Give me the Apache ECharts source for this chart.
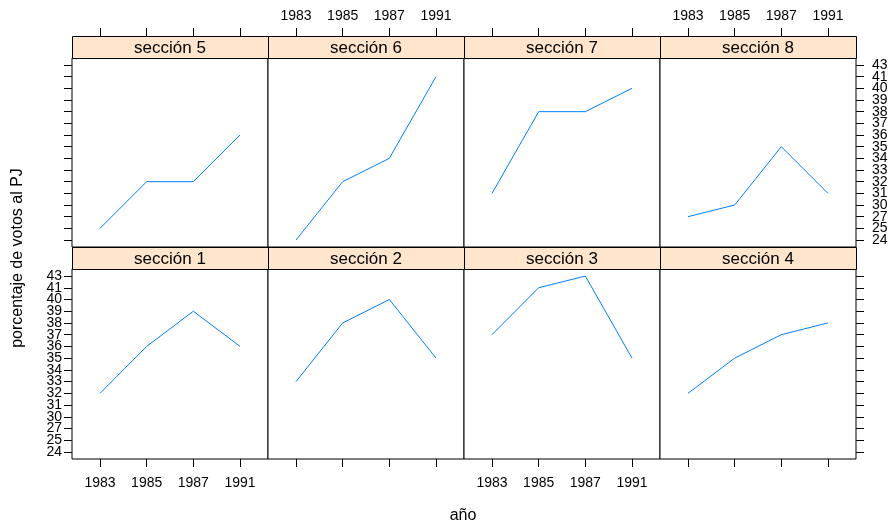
<!DOCTYPE html>
<html><head><meta charset="utf-8">
<script src="https://cdn.jsdelivr.net/npm/echarts@6/dist/echarts.min.js"></script>
<style>html,body{margin:0;padding:0;background:#fff}#c{width:895px;height:526px}</style>
</head><body><div id="c"></div>
<script>
// ---- data ----
const years = ['1983', '1985', '1987', '1991'];
const levels = [24, 25, 27, 30, 31, 32, 33, 34, 35, 36, 37, 38, 39, 40, 41, 43];
const panelNames = ['sección 1', 'sección 2', 'sección 3', 'sección 4', 'sección 5', 'sección 6', 'sección 7', 'sección 8'];
const s1 = [32, 36, 39, 36];
const s2 = [33, 38, 40, 35];
const s3 = [37, 41, 43, 35];
const s4 = [32, 35, 37, 38];
const s5 = [25, 32, 32, 36];
const s6 = [24, 32, 34, 41];
const s7 = [31, 38, 38, 40];
const s8 = [27, 30, 35, 31];
const seriesValues = [s1, s2, s3, s4, s5, s6, s7, s8];

// ---- layout ----
const FONT = 'Liberation Sans, Arial, Helvetica, sans-serif';
const colLeft = [72, 268, 464, 660];
const panelW = 196;
const stripH = 22;
const rowTop = { top: 58, bottom: 269 };
const panelH = { top: 189, bottom: 190 };

const grid = [], xAxis = [], yAxis = [], series = [], graphic = [];
const yIdx = levels.map((_, i) => i);
const yEven = yIdx.filter(i => i % 2 === 0);
const yOdd = yIdx.filter(i => i % 2 === 1);
const xIdx = years.map((_, i) => i);
const extraY = [];

function yLabelStyle(values, right) {
  return { show: true, customValues: values, formatter: v => String(levels[Math.round(v)]),
    showMinLabel: true, showMaxLabel: true, hideOverlap: false,
    color: '#000', fontSize: 14, fontFamily: FONT, margin: right ? 16 : 10 };
}

panelNames.forEach((name, p) => {
  const row = p < 4 ? 'bottom' : 'top';
  const col = p % 4;
  const left = colLeft[col];
  const top = rowTop[row];
  const h = panelH[row];
  grid.push({ left: left, top: top, width: panelW, height: h, show: true,
    borderColor: '#000', borderWidth: 1, backgroundColor: '#fff', containLabel: false });
  const xLabel = row === 'bottom' ? (col === 0 || col === 2) : (col === 1 || col === 3);
  xAxis.push({
    type: 'value', gridIndex: p, min: -0.6, max: 3.6,
    position: row === 'bottom' ? 'bottom' : 'top',
    offset: row === 'top' ? stripH : 0,
    axisLine: { show: false, onZero: false }, splitLine: { show: false },
    axisTick: { show: true, length: 8, customValues: xIdx, lineStyle: { color: '#000', width: 1 } },
    axisLabel: { show: xLabel, customValues: xIdx, formatter: v => years[Math.round(v)],
      hideOverlap: false,
      color: '#000', fontSize: 14, fontFamily: FONT, margin: row === 'top' ? 13 : 17 }
  });
  const yTicks = col === 0 || col === 3;
  const yLabel = (col === 0 && row === 'bottom') || (col === 3 && row === 'top');
  const pos = col === 3 ? 'right' : 'left';
  const lab = yLabelStyle(yEven, col === 3);
  lab.show = yLabel;
  yAxis.push({
    type: 'value', gridIndex: p, min: -0.6, max: 15.6, position: pos,
    axisLine: { show: false, onZero: false }, splitLine: { show: false },
    axisTick: { show: yTicks, length: 8, customValues: yIdx, lineStyle: { color: '#000', width: 1 } },
    axisLabel: lab
  });
  if (yLabel) {
    extraY.push({
      type: 'value', gridIndex: p, min: -0.6, max: 15.6, position: pos,
      axisLine: { show: false, onZero: false }, splitLine: { show: false },
      axisTick: { show: false },
      axisLabel: yLabelStyle(yOdd, col === 3)
    });
  }
  series.push({
    type: 'line', xAxisIndex: p, yAxisIndex: p, showSymbol: false, silent: true,
    lineStyle: { color: '#0080ff', width: 1 },
    data: seriesValues[p].map((v, j) => [j, levels.indexOf(v)])
  });
  graphic.push({
    type: 'rect', silent: true,
    shape: { x: left + 0.5, y: top - stripH + 0.5, width: panelW, height: stripH },
    style: { fill: '#ffe5cc', stroke: '#000', lineWidth: 1 }
  });
  graphic.push({
    type: 'text', silent: true,
    x: left + panelW / 2, y: top - stripH / 2 + 1,
    style: { text: name, fill: '#000', font: '17px ' + FONT, align: 'center', verticalAlign: 'middle' }
  });
});
extraY.forEach(a => yAxis.push(a));

graphic.push({
  type: 'text', silent: true, x: 463, y: 516,
  style: { text: 'año', fill: '#000', font: '16px ' + FONT, align: 'center', verticalAlign: 'middle' }
});
graphic.push({
  type: 'text', silent: true, x: 18, y: 258, rotation: Math.PI / 2,
  style: { text: 'porcentaje de votos al PJ', fill: '#000', font: '16px ' + FONT, align: 'center', verticalAlign: 'middle' }
});

const chart = echarts.init(document.getElementById('c'), null, { renderer: 'canvas' });
chart.setOption({ animation: false, backgroundColor: '#fff', grid, xAxis, yAxis, series, graphic });
</script>
</body></html>
